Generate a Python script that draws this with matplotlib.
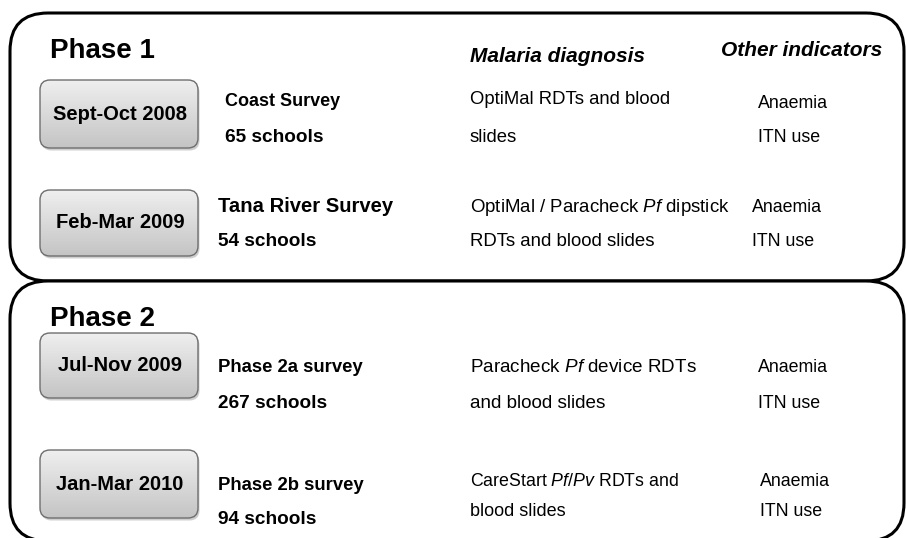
import matplotlib
matplotlib.use("Agg")
import matplotlib.pyplot as plt
import numpy as np
from matplotlib.patches import FancyBboxPatch

plt.rcParams['font.family'] = ['Liberation Sans', 'DejaVu Sans']
plt.rcParams['mathtext.fontset'] = 'custom'
plt.rcParams['mathtext.rm'] = 'Liberation Sans'
plt.rcParams['mathtext.it'] = 'Liberation Sans:italic'

# diagram content
phases = ["Phase 1", "Phase 2"]
periods = ["Sept-Oct 2008", "Feb-Mar 2009", "Jul-Nov 2009", "Jan-Mar 2010"]
surveys = ["Coast Survey", "Tana River Survey", "Phase 2a survey", "Phase 2b survey"]
schools = ["65 schools", "54 schools", "267 schools", "94 schools"]
diagnosis = [
    ("OptiMal RDTs and blood", "slides"),
    (r"OptiMal / Paracheck $\it{Pf}$ dipstick", "RDTs and blood slides"),
    (r"Paracheck $\it{Pf}$ device RDTs", "and blood slides"),
    (r"CareStart $\it{Pf/Pv}$ RDTs and", "blood slides"),
]
indicators = ("Anaemia", "ITN use")

# layout in pixels (origin top-left)
W, H = 906, 538
fig = plt.figure(figsize=(W / 100, H / 100), dpi=100)
ax = fig.add_axes([0, 0, 1, 1])
ax.set_xlim(0, W)
ax.set_ylim(H, 0)
ax.axis('off')

# the two phase panels
panels = [(10, 13, 894, 268), (10, 281, 894, 260)]
for (x, y, w, h) in panels:
    ax.add_patch(FancyBboxPatch((x, y), w, h, boxstyle="round,pad=0,rounding_size=38",
                                fc='white', ec='black', lw=2.2, zorder=1))

phase_y = [51, 319]
for name, py in zip(phases, phase_y):
    ax.text(50, py, name, fontsize=20, fontweight='bold', va='center', ha='left', zorder=5)

ax.text(470, 56, "Malaria diagnosis", fontsize=15, fontweight='bold', style='italic',
        va='center', ha='left', zorder=5)
ax.text(721, 51, "Other indicators", fontsize=15, fontweight='bold', style='italic',
        va='center', ha='left', zorder=5)

# per-row positions and sizes
btn_top = [80, 190, 333, 450]
btn_h = [68, 66, 65, 68]
line1_y = [101, 207, 368, 486]
line2_y = [137, 242, 404, 520]
diag1_y = [100, 207, 368, 481]
diag2_y = [137, 242, 404, 512]
survey_x = [225, 218, 218, 218]
survey_fs = [13, 14.6, 13.3, 13.3]
diag_fs = [(13.3, 13.3), (13.4, 13.4), (13.6, 13.6), (12.8, 13)]
ind_x = [758, 752, 758, 760]
ind1_y = [103, 207, 368, 481]

grad = np.linspace(0, 1, 256).reshape(-1, 1)
cmap = matplotlib.colors.LinearSegmentedColormap.from_list("btn", ["#efefef", "#c4c4c4"])

for i in range(4):
    bx, by, bw, bh = 40, btn_top[i], 158, btn_h[i]
    # shadow
    ax.add_patch(FancyBboxPatch((bx + 1.5, by + 2.5), bw, bh,
                                boxstyle="round,pad=0,rounding_size=10",
                                fc='#a0a0a0', ec='none', alpha=0.5, zorder=2))
    box = FancyBboxPatch((bx, by), bw, bh, boxstyle="round,pad=0,rounding_size=10",
                         fc='none', ec='#6e6e6e', lw=1.0, zorder=4)
    ax.add_patch(box)
    im = ax.imshow(grad, extent=(bx, bx + bw, by + bh, by), cmap=cmap,
                   aspect='auto', zorder=3, origin='upper')
    im.set_clip_path(box)
    ax.text(bx + bw / 2 + 1, by + bh / 2, periods[i], fontsize=14.5, fontweight='bold',
            ha='center', va='center', zorder=5)

    ax.text(survey_x[i], line1_y[i], surveys[i], fontsize=survey_fs[i], fontweight='bold',
            ha='left', va='center', zorder=5)
    ax.text(survey_x[i], line2_y[i], schools[i], fontsize=13.7, fontweight='bold',
            ha='left', va='center', zorder=5)

    ax.text(470, diag1_y[i], diagnosis[i][0], fontsize=diag_fs[i][0],
            ha='left', va='center', zorder=5)
    ax.text(470, diag2_y[i], diagnosis[i][1], fontsize=diag_fs[i][1],
            ha='left', va='center', zorder=5)

    ax.text(ind_x[i], ind1_y[i], indicators[0], fontsize=12.8,
            ha='left', va='center', zorder=5)
    ax.text(ind_x[i], diag2_y[i], indicators[1], fontsize=12.8,
            ha='left', va='center', zorder=5)

ax.set_xlim(0, W)
ax.set_ylim(H, 0)
fig.savefig("out.png", dpi=100)
